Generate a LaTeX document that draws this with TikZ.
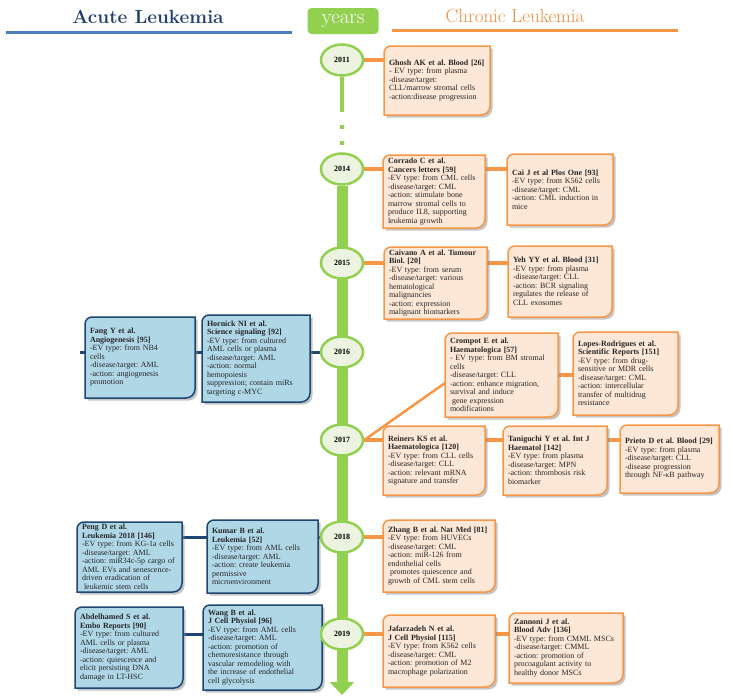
\documentclass[tikz,border=0pt]{standalone}
\usepackage{tikz}
\usepackage{fontspec}
\usetikzlibrary{arrows.meta,shapes.geometric,backgrounds,shadows}
\newfontfamily\boxfont{Liberation Serif}
\pgfdeclarelayer{links}
\pgfsetlayers{links,background,main}
\definecolor{tlgreen}{HTML}{92D050}
\definecolor{ringfill}{HTML}{EDF3E0}
\definecolor{orline}{HTML}{F79646}
\definecolor{orfill}{HTML}{FDE7D6}
\definecolor{blfill}{HTML}{AFD7E6}
\definecolor{blline}{HTML}{1F4572}
\definecolor{headblue}{HTML}{4A7EBB}
\definecolor{acutetext}{HTML}{1F3F6E}
\definecolor{chrontext}{HTML}{F28C3C}
\definecolor{boxtext}{HTML}{262626}
\tikzset{
  chron/.style = {align = left, inner xsep = 5pt, inner ysep = 2pt, outer sep = 0pt,
    text = boxtext, font = \boxfont\fontsize{8}{8.5}\selectfont\frenchspacing},
  acute/.style = {chron},
  chron frame/.style = {draw = orline, line width = 1.5pt, fill = orfill,
    drop shadow = {shadow xshift = 2.5pt, shadow yshift = -2.5pt, fill = black!45, opacity = .5}},
  acute frame/.style = {draw = blline, line width = 1.5pt, fill = blfill,
    drop shadow = {shadow xshift = 2.5pt, shadow yshift = -2.5pt, fill = black!45, opacity = .5}},
  yearnode/.style = {ellipse, draw = tlgreen, line width = 2.5pt, fill = ringfill,
    minimum width = 42pt, minimum height = 31pt, inner sep = 0pt,
    font = \boxfont\fontsize{8}{9}\selectfont\bfseries},
  chron link/.style = {orline, line width = 3.5pt},
  acute link/.style = {blline, line width = 3pt},
  stem/.style = {tlgreen, line width = 11pt},
  thin stem/.style = {tlgreen, line width = 4.5pt}
}
\newcommand{\evbox}[7]{
\node [#1, text width = #5pt, minimum height = #6pt, anchor = north west] (#2) at (#3, #4) {#7};
\begin{scope}[on background layer]
\path [#1 frame] ([yshift = -7pt]#2.north west) arc [start angle = 180, end angle = 90, radius = 7pt]
  -- (#2.north east) -- ([yshift = 9pt]#2.south east) arc [start angle = 0, end angle = -90, radius = 9pt]
  -- (#2.south west) -- cycle;
\end{scope}
}
\begin{document}
\begin{tikzpicture}[x = 1pt, y = -1pt]
\useasboundingbox (0,0) rectangle (733,699);

\node [font = \fontsize{19}{21}\selectfont\bfseries, text = acutetext] (acute) at (148,17) {Acute Leukemia};
\draw [headblue, line width = 3pt] (6,32) -- (292,32);
\node [fill = tlgreen, rounded corners = 4pt, text = white, minimum width = 71pt, minimum height = 26pt,
  inner sep = 0pt, font = \fontsize{21}{21}\selectfont] (years) at (343,21) {years};
\node [font = \fontsize{19}{21}\selectfont, text = chrontext] (chronic) at (515,16) {Chronic Leukemia};
\draw [orline, line width = 3pt] (392,30) -- (678,30);

\foreach \yr/\yy in {2011/60, 2014/169, 2015/263, 2016/352, 2017/440, 2018/537, 2019/634}
  \node [yearnode] (y\yr) at (342,\yy) {\yr};
\coordinate (gapend) at (342,112);
\coordinate (tip) at (342,695);
\fill [tlgreen] (340,125) rectangle (344,129);
\fill [tlgreen] (340,141) rectangle (344,145);

\evbox{chron}{ghosh}{384}{46}{96}{69}{\textbf{Ghosh AK et al. Blood [26]}\\- EV type: from plasma\\-disease/target:\\CLL/marrow stromal cells\\-action:disease progression}
\evbox{chron}{corrado}{383}{155}{92}{73}{\textbf{Corrado C et al.}\\\textbf{Cancers letters [59]}\\-EV type: from CML cells\\-disease/target: CML\\-action: stimulate bone\\marrow stromal cells to\\produce IL8, supporting\\leukemia growth}
\evbox{chron}{cai}{507}{154}{96}{71}{\textbf{Cai J et al Plos One [93]}\\-EV type: from K562 cells\\-disease/target: CML\\-action: CML induction in\\mice}
\evbox{chron}{caivano}{384}{247}{93}{72}{\textbf{Caivano A et al. Tumour}\\\textbf{Biol. [20]}\\-EV type: from serum\\-disease/target: various\\hematological\\malignancies\\-action: expression\\malignant biomarkers}
\evbox{chron}{yeh}{508}{246}{94}{71}{\textbf{Yeh YY et al. Blood [31]}\\-EV type: from plasma\\-disease/target: CLL\\-action: BCR signaling\\regulates the release of\\CLL exosomes}
\evbox{chron}{crompot}{445}{333}{103}{84}{\textbf{Crompot E et al.}\\\textbf{Haematologica [57]}\\- EV type: from BM stromal\\cells\\-disease/target: CLL\\-action: enhance migration,\\survival and induce\\\hspace*{2pt}gene expression\\modifications}
\evbox{chron}{lopes}{573}{332}{95}{83}{\textbf{Lopes-Rodrigues et al.}\\\textbf{Scientific Reports [151]}\\-EV type: from drug-\\sensitive or MDR cells\\-disease/target: CML\\-action: intercellular\\transfer of multidrug\\resistance}
\evbox{chron}{reiners}{383}{426}{92}{69}{\textbf{Reiners KS et al.}\\\textbf{Haematologica [120]}\\-EV type: from CLL cells\\-disease/target: CLL\\-action: relevant mRNA\\signature and transfer}
\evbox{chron}{taniguchi}{503}{426}{94}{69}{\textbf{Taniguchi Y et al. Int J}\\\textbf{Haematol [142]}\\-EV type: from plasma\\-disease/target: MPN\\-action: thrombosis risk\\biomarker}
\evbox{chron}{prieto}{620}{425}{89}{68}{\textbf{Prieto D et al. Blood [29]}\\-EV type: from plasma\\-disease/target: CLL\\-disease progression\\through NF-κB pathway}
\evbox{chron}{zhang}{383}{520}{102}{72}{\textbf{Zhang B et al. Nat Med [81]}\\-EV type: from HUVECs\\-disease/target: CML\\-action: miR-126 from\\endothelial cells\\\hspace*{2pt}promotes quiescence and\\growth of CML stem cells}
\evbox{chron}{jafar}{383}{615}{102}{72}{\textbf{Jafarzadeh N et al.}\\\textbf{J Cell Physiol [115]}\\-EV type: from K562 cells\\-disease/target: CML\\-action: promotion of M2\\macrophage polarization}
\evbox{chron}{zannoni}{509}{613}{104}{70}{\textbf{Zannoni J et al.}\\\textbf{Blood Adv [136]}\\-EV type: from CMML MSCs\\-disease/target: CMML\\-action: promotion of\\procoagulant activity to\\healthy donor MSCs}

\evbox{acute}{fang}{85}{317}{100}{81}{\textbf{Fang Y et al.}\\\textbf{Angiogenesis [95]}\\-EV type: from NB4\\cells\\-disease/target: AML\\-action: angiogenesis\\promotion}
\evbox{acute}{hornick}{202}{315}{98}{87}{\textbf{Hornick NI et al.}\\\textbf{Science signaling [92]}\\-EV type: from cultured\\AML cells or plasma\\-disease/target: AML\\-action: normal\\hemopoiesis\\suppression; contain miRs\\targeting c-MYC}
\evbox{acute}{peng}{77}{522}{95}{70}{\textbf{Peng D et al.}\\\textbf{Leukemia 2018 [146]}\\-EV type: from KG-1a cells\\-disease/target: AML\\-action: miR34c-5p cargo of\\AML EVs and senescence-\\driven eradication of\\\hspace*{2pt}leukemic stem cells}
\evbox{acute}{kumar}{207}{520}{101}{73}{\textbf{Kumar B et al.}\\\textbf{Leukemia [52]}\\-EV type: from AML cells\\-disease/target: AML\\-action: create leukemia\\permissive\\microenvironment}
\evbox{acute}{abdel}{75}{607}{98}{81}{\textbf{Abdelhamed S et al.}\\\textbf{Embo Reports [90]}\\-EV type: from cultured\\AML cells or plasma\\-disease/target: AML\\-action: quiescence and\\elicit persisting DNA\\damage in LT-HSC}
\evbox{acute}{wang}{203}{605}{109}{85}{\textbf{Wang B et al.}\\\textbf{J Cell Physiol [96]}\\-EV type: from AML cells\\-disease/target: AML\\-action: promotion of\\chemoresistance through\\vascular remodeling with\\the increase of endothelial\\cell glycolysis}

\begin{pgfonlayer}{links}
\draw [thin stem] (y2011) -- (gapend);
\draw [stem, -{Triangle[width = 24pt, length = 13pt]}] (y2014) -- (tip);
\draw [chron link] (y2011) -- (y2011 -| ghosh.west);
\draw [chron link] (y2014) -- (y2014 -| cai.west);
\draw [chron link] (y2015) -- (y2015 -| yeh.west);
\draw [chron link] (y2017) -- (y2017 -| prieto.west);
\draw [chron link, line width = 2.5pt] (y2017.east) -- ([yshift = -8pt]crompot.west);
\draw [chron link] (crompot.east) -- (crompot.east -| lopes.west);
\draw [chron link] (y2018) -- (y2018 -| zhang.west);
\draw [chron link] (y2019) -- (y2019 -| zannoni.west);
\draw [acute link] (y2016) -- ([xshift = -5pt]y2016 -| fang.west);
\draw [acute link] (y2018) -- (y2018 -| peng.west);
\draw [acute link] (y2019) -- (y2019 -| abdel.west);
\end{pgfonlayer}
\end{tikzpicture}
\end{document}
